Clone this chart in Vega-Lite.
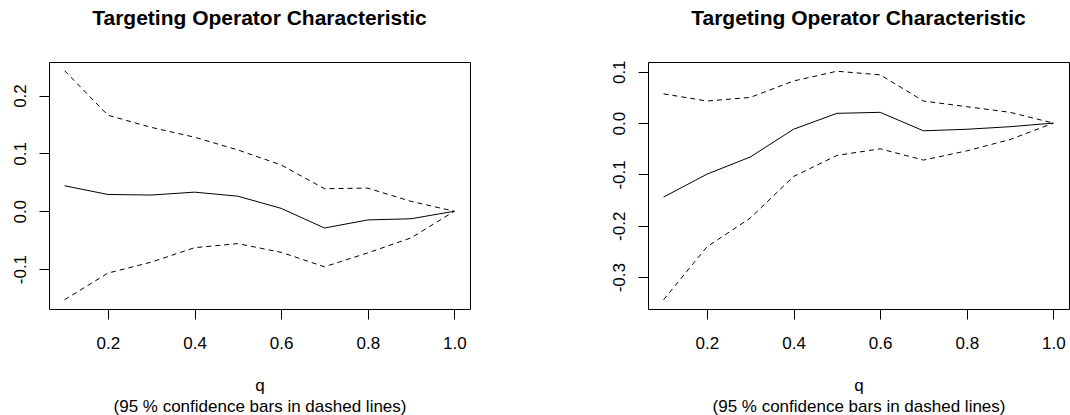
{
  "$schema": "https://vega.github.io/schema/vega-lite/v6.json",
  "autosize": {"type": "pad"},
  "padding": {"left": 10, "top": 7, "right": 0, "bottom": 0},
  "background": "white",
  "bounds": "flush",
  "spacing": 178,
  "config": {
    "font": "Liberation Sans",
    "view": {"stroke": "#000", "strokeWidth": 1},
    "axis": {
      "grid": false, "domain": false, "tickColor": "#000", "tickWidth": 1, "tickSize": 10,
      "labelColor": "#000", "labelFontSize": 17, "labelFont": "Liberation Sans",
      "titleColor": "#000", "titleFontSize": 17, "titleFontWeight": "normal", "titleFont": "Liberation Sans"
    },
    "title": {"fontSize": 21, "fontWeight": "bold", "color": "#000", "font": "Liberation Sans", "anchor": "middle", "frame": "group", "baseline": "alphabetic", "offset": 33}
  },
  "datasets": {
    "left": [
      {"q": 0.1, "est": 0.044, "hi": 0.243, "lo": -0.153},
      {"q": 0.2, "est": 0.029, "hi": 0.166, "lo": -0.107},
      {"q": 0.3, "est": 0.028, "hi": 0.145, "lo": -0.088},
      {"q": 0.4, "est": 0.033, "hi": 0.128, "lo": -0.063},
      {"q": 0.5, "est": 0.026, "hi": 0.106, "lo": -0.056},
      {"q": 0.6, "est": 0.005, "hi": 0.080, "lo": -0.071},
      {"q": 0.7, "est": -0.029, "hi": 0.039, "lo": -0.096},
      {"q": 0.8, "est": -0.015, "hi": 0.040, "lo": -0.072},
      {"q": 0.9, "est": -0.013, "hi": 0.017, "lo": -0.046},
      {"q": 1.0, "est": 0.0, "hi": 0.0, "lo": 0.0}
    ],
    "right": [
      {"q": 0.1, "est": -0.144, "hi": 0.057, "lo": -0.344},
      {"q": 0.2, "est": -0.0995, "hi": 0.043, "lo": -0.241},
      {"q": 0.3, "est": -0.066, "hi": 0.050, "lo": -0.185},
      {"q": 0.4, "est": -0.012, "hi": 0.082, "lo": -0.104},
      {"q": 0.5, "est": 0.019, "hi": 0.101, "lo": -0.063},
      {"q": 0.6, "est": 0.021, "hi": 0.094, "lo": -0.050},
      {"q": 0.7, "est": -0.015, "hi": 0.043, "lo": -0.072},
      {"q": 0.8, "est": -0.012, "hi": 0.032, "lo": -0.054},
      {"q": 0.9, "est": -0.007, "hi": 0.021, "lo": -0.032},
      {"q": 1.0, "est": 0.0, "hi": 0.0, "lo": 0.0}
    ]
  },
  "hconcat": [
    {
      "title": {"text": "Targeting Operator Characteristic"},
      "width": 421,
      "height": 247,
      "data": {"name": "left"},
      "encoding": {
        "x": {"field": "q", "type": "quantitative",
          "scale": {"domain": [0.064, 1.036], "nice": false, "zero": false},
          "axis": {"values": [0.2, 0.4, 0.6, 0.8, 1.0], "format": ".1f", "labelBaseline": "alphabetic", "labelPadding": 29,
            "title": ["q", "(95 % confidence bars in dashed lines)"], "titleBaseline": "alphabetic", "titleY": 81, "titleLineHeight": 21}}
      },
      "layer": [
        {"mark": {"type": "rule", "strokeDash": [1, 2], "color": "#000", "strokeWidth": 1},
         "encoding": {"y": {"datum": 0, "type": "quantitative"}}},
        {"mark": {"type": "line", "color": "#000", "strokeWidth": 1, "strokeDash": [5, 4]},
         "encoding": {"y": {"field": "hi", "type": "quantitative",
           "scale": {"domain": [-0.169, 0.258], "nice": false, "zero": false},
           "axis": {"values": [-0.1, 0.0, 0.1, 0.2], "labelExpr": "replace(format(datum.value, '.1f'), '\u2212', '-')", "labelAngle": -90, "labelAlign": "center", "labelBaseline": "alphabetic", "labelPadding": 14, "title": null}}}},
        {"mark": {"type": "line", "color": "#000", "strokeWidth": 1, "strokeDash": [5, 4]},
         "encoding": {"y": {"field": "lo", "type": "quantitative"}}},
        {"mark": {"type": "line", "color": "#000", "strokeWidth": 1},
         "encoding": {"y": {"field": "est", "type": "quantitative"}}}
      ]
    },
    {
      "title": {"text": "Targeting Operator Characteristic", "dy": 2},
      "width": 421,
      "height": 247,
      "data": {"name": "right"},
      "encoding": {
        "x": {"field": "q", "type": "quantitative",
          "scale": {"domain": [0.064, 1.036], "nice": false, "zero": false},
          "axis": {"values": [0.2, 0.4, 0.6, 0.8, 1.0], "format": ".1f", "labelBaseline": "alphabetic", "labelPadding": 29,
            "title": ["q", "(95 % confidence bars in dashed lines)"], "titleBaseline": "alphabetic", "titleY": 81, "titleLineHeight": 21}}
      },
      "layer": [
        {"mark": {"type": "rule", "strokeDash": [1, 2], "color": "#000", "strokeWidth": 1},
         "encoding": {"y": {"datum": 0, "type": "quantitative"}}},
        {"mark": {"type": "line", "color": "#000", "strokeWidth": 1, "strokeDash": [5, 4]},
         "encoding": {"y": {"field": "hi", "type": "quantitative",
           "scale": {"domain": [-0.362, 0.119], "nice": false, "zero": false},
           "axis": {"values": [-0.3, -0.2, -0.1, 0.0, 0.1], "labelExpr": "replace(format(datum.value, '.1f'), '\u2212', '-')", "labelAngle": -90, "labelAlign": "center", "labelBaseline": "alphabetic", "labelPadding": 14, "title": null}}}},
        {"mark": {"type": "line", "color": "#000", "strokeWidth": 1, "strokeDash": [5, 4]},
         "encoding": {"y": {"field": "lo", "type": "quantitative"}}},
        {"mark": {"type": "line", "color": "#000", "strokeWidth": 1},
         "encoding": {"y": {"field": "est", "type": "quantitative"}}}
      ]
    }
  ]
}
